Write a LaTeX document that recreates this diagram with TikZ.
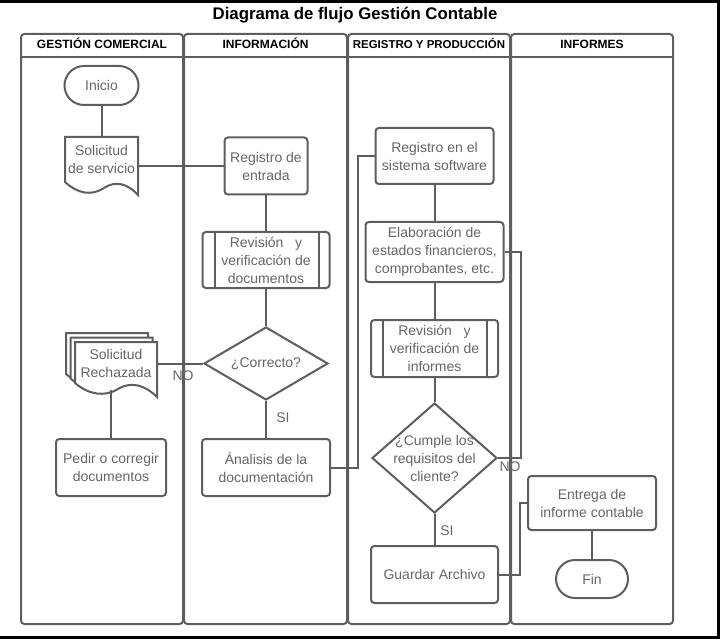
\documentclass[tikz,border=0pt]{standalone}
\usepackage{fontspec}
\setmainfont{Liberation Sans}
\usetikzlibrary{shapes.misc,shapes.geometric}
\definecolor{lanegray}{HTML}{5E5E5E}
\definecolor{txtgray}{HTML}{666666}
\newcommand{\flujofont}{\fontsize{10.5}{13.5}\selectfont}
\tikzset{every picture/.style={line width=0.75pt}}
\tikzset{
  lane/.style={draw=lanegray,line width=1.5pt,rounded corners=2.5pt},
  lanehead/.style={anchor=base,inner sep=0pt,font=\bfseries\fontsize{9}{11}\selectfont},
  procbox/.style={draw=lanegray,line width=1.5pt,rounded corners=2.5pt,fill=white,text=txtgray,font=\flujofont,align=center,inner sep=0pt},
  termbox/.style={draw=lanegray,line width=1.5pt,rounded rectangle,fill=white,text=txtgray,font=\flujofont,inner sep=0pt},
  decbox/.style={draw=lanegray,line width=1.5pt,diamond,fill=white,inner sep=0pt},
  txtbox/.style={text=txtgray,font=\flujofont,align=center,inner sep=0pt},
  docshape/.style={draw=lanegray,line width=1.5pt,fill=white},
  conn/.style={draw=lanegray,line width=1.5pt},
}

\begin{document}
\begin{tikzpicture}[x=0.75pt,y=0.75pt,yscale=-1,xscale=1]
\useasboundingbox (0,0) rectangle (723,641);

%Shape: Rectangle [sheet frame]
\draw[line width=2pt] (-5,1.3) rectangle (718.3,637.7);

% Text Node
\node[anchor=base,inner sep=0pt,font=\bfseries\fontsize{12.6}{15}\selectfont] (title) at (355,19.5) {Diagrama de flujo Gestión Contable};

%Shape: Lanes
\draw[lane] (21,34) rectangle (183,624);
\draw[conn] (21,57) -- (183,57);
\draw[lane] (184,34) rectangle (347,624);
\draw[conn] (184,57) -- (347,57);
\draw[lane] (348,34) rectangle (510,624);
\draw[conn] (348,57) -- (510,57);
\draw[lane] (511,34) rectangle (673,624);
\draw[conn] (511,57) -- (673,57);

% Text Node
\node[lanehead] (h1) at (102,48.5) {GESTIÓN COMERCIAL};
% Text Node
\node[lanehead] (h2) at (265.5,48.5) {INFORMACIÓN};
% Text Node
\node[lanehead,font=\bfseries\fontsize{8.6}{11}\selectfont] (h3) at (429,48.5) {REGISTRO Y PRODUCCIÓN};
% Text Node
\node[lanehead] (h4) at (592,48.5) {INFORMES};

%Shape: Terminal
\node[termbox,minimum width=55.5pt,minimum height=29.25pt] (ini) at (101.5,85.5) {Inicio};

%Shape: Document
\draw[docshape] (65,137) -- (65,182) .. controls (78,194) and (92,196) .. (104,188) .. controls (116,180) and (128,184) .. (138,195) -- (138,137) -- cycle;
\node[txtbox,minimum width=54.75pt,minimum height=33pt] (sol) at (101.5,159) {Solicitud\\de servicio};

%Shape: Rectangle
\node[procbox,minimum width=62.25pt,minimum height=42.75pt] (reg1) at (266,166) {Registro de\\entrada};

%Shape: Predefined Process
\node[procbox,minimum width=95.25pt,minimum height=42pt] (rev1) at (266,260) {Revisión~~~y\\verificación de\\documentos};
\draw[conn] ([xshift=9.75pt]rev1.north west) -- ([xshift=9.75pt]rev1.south west);
\draw[conn] ([xshift=-9pt]rev1.north east) -- ([xshift=-9pt]rev1.south east);

%Shape: Diamond
\node[decbox,minimum width=93pt,minimum height=54.75pt,label={[txtbox]center:{¿Correcto?}}] (cor) at (266,363.5) {};

%Shape: Multiple Documents
\draw[docshape] (66,333) -- (66,374) .. controls (80,386) and (96,388) .. (109,380) .. controls (122,372) and (136,376) .. (148,388) -- (148,333) -- cycle;
\draw[docshape] (70.5,337.5) -- (70.5,378.5) .. controls (84.5,390.5) and (100.5,392.5) .. (113.5,384.5) .. controls (126.5,376.5) and (140.5,380.5) .. (152.5,392.5) -- (152.5,337.5) -- cycle;
\draw[docshape] (75,342) -- (75,383) .. controls (89,395) and (105,397) .. (118,389) .. controls (131,381) and (145,385) .. (157,397) -- (157,342) -- cycle;
\node[txtbox,minimum width=61.5pt,minimum height=31.5pt] (rech) at (116,363) {Solicitud\\Rechazada};

%Shape: Rectangle
\node[procbox,minimum width=82.5pt,minimum height=42.75pt] (ped) at (111,467.5) {Pedir o corregir\\documentos};
%Shape: Rectangle
\node[procbox,minimum width=96pt,minimum height=42.75pt] (ana) at (266,467.5) {Ánalisis de la\\documentación};

%Shape: Rectangle
\node[procbox,minimum width=88.5pt,minimum height=42pt] (reg2) at (434.5,156) {Registro en el\\sistema software};
%Shape: Rectangle
\node[procbox,minimum width=103.5pt,minimum height=45pt] (elab) at (434.5,252) {Elaboración de\\estados financieros,\\comprobantes, etc.};

%Shape: Predefined Process
\node[procbox,minimum width=95.25pt,minimum height=42.75pt] (rev2) at (434.5,348.5) {Revisión~~~y\\verificación de\\informes};
\draw[conn] ([xshift=9.75pt]rev2.north west) -- ([xshift=9.75pt]rev2.south west);
\draw[conn] ([xshift=-9pt]rev2.north east) -- ([xshift=-9pt]rev2.south east);

%Shape: Diamond
\node[decbox,minimum width=93.75pt,minimum height=82.5pt,label={[txtbox]center:{¿Cumple los\\requisitos del\\cliente?}}] (cum) at (434.5,458) {};

%Shape: Rectangle
\node[procbox,minimum width=95.25pt,minimum height=42.75pt] (guar) at (434.5,574.5) {Guardar Archivo};
%Shape: Rectangle
\node[procbox,minimum width=96pt,minimum height=40.5pt] (ent) at (592,503) {Entrega de\\informe contable};
%Shape: Terminal
\node[termbox,minimum width=54pt,minimum height=28.5pt] (fin) at (592,579) {Fin};

%Straight Lines
\draw[conn] (ini.south) -- (sol.north);
\draw[conn] (sol.east |- reg1.west) -- (reg1.west);
\draw[conn] (reg1.south) -- (rev1.north);
\draw[conn] (rev1.south) -- (cor.north);
\draw[conn] (cor.west) -- (cor.west -| rech.east);
\draw[conn] (cor.south) -- (ana.north);
\draw[conn] (ped.north) -- ++(0,-48);
\draw[conn] (ana.east) -- ++(26.5,0) |- (reg2.west);
\draw[conn] (reg2.south) -- (elab.north);
\draw[conn] (elab.south) -- (rev2.north);
\draw[conn] (rev2.south) -- (cum.north);
\draw[conn] (cum.east) -- ++(22.5,0) |- (elab.east);
\draw[conn] (cum.south) -- (guar.north);
\draw[conn] (guar.east) -- ++(21,0) |- (ent.west);
\draw[conn] (ent.south) -- (fin.north);

% Text Node
\node[txtbox] (no1) at (183,375.5) {NO};
% Text Node
\node[txtbox] (si1) at (283,418) {SI};
% Text Node
\node[txtbox] (no2) at (510,467) {NO};
% Text Node
\node[txtbox] (si2) at (447,531) {SI};

\end{tikzpicture}
\end{document}
